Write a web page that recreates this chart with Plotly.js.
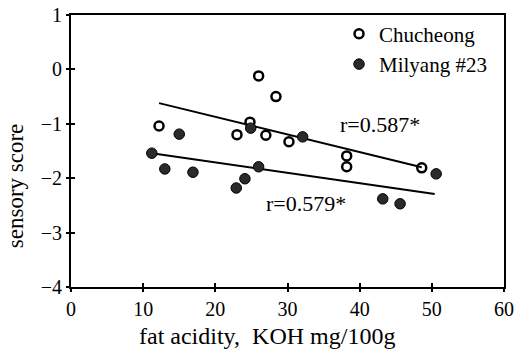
<!DOCTYPE html>
<html>
<head>
<meta charset="utf-8">
<script src="https://cdn.plot.ly/plotly-3.0.1.min.js"></script>
<style>html,body{margin:0;padding:0;background:#fff;}#chart{width:519px;height:353px;}</style>
</head>
<body>
<div id="chart"></div>
<script>
// Chucheong (open circles)
const chuX = [12.2, 23.0, 24.8, 26.0, 27.0, 28.4, 30.2, 38.2, 38.2, 48.6];
const chuY = [-1.04, -1.20, -0.97, -0.12, -1.21, -0.50, -1.33, -1.59, -1.79, -1.81];
// Milyang #23 (filled circles)
const milX = [11.2, 13.0, 15.0, 16.9, 22.9, 24.1, 24.9, 26.0, 32.1, 43.2, 45.6, 50.6];
const milY = [-1.54, -1.83, -1.19, -1.89, -2.18, -2.01, -1.08, -1.79, -1.24, -2.38, -2.47, -1.92];
// regression line endpoints
const chuLineX = [12.2, 48.6];
const chuLineY = [-0.62, -1.80];
const milLineX = [11.2, 50.4];
const milLineY = [-1.54, -2.29];
const seriesNames = ['Chucheong', 'Milyang #23'];
const rLabels = ['r=0.587*', 'r=0.579*'];
const rPosX = [42.8, 32.5];
const rPosY = [-1.02, -2.46];
const xTicks = [0, 10, 20, 30, 40, 50, 60];
const yTicks = [-4, -3, -2, -1, 0, 1];
const xTitle = 'fat acidity,  KOH mg/100g';
const yTitle = 'sensory score';

const serif = 'Liberation Serif';

const traces = [
  {x: chuLineX, y: chuLineY, mode: 'lines', line: {color: '#000', width: 2}, showlegend: false, hoverinfo: 'skip'},
  {x: milLineX, y: milLineY, mode: 'lines', line: {color: '#000', width: 2}, showlegend: false, hoverinfo: 'skip'},
  {x: chuX, y: chuY, mode: 'markers', name: seriesNames[0],
   marker: {symbol: 'circle-open', size: 9, color: '#000', line: {width: 2.5, color: '#000'}}},
  {x: milX, y: milY, mode: 'markers', name: seriesNames[1],
   marker: {symbol: 'circle', size: 10.5, color: '#2a2a2a', line: {width: 1, color: '#000'}}},
  {x: [0], y: [-4], xaxis: 'x2', yaxis: 'y2', mode: 'markers', marker: {opacity: 0}, showlegend: false, hoverinfo: 'skip'}
];

const axisCommon = {
  showgrid: false, zeroline: false, showline: true, linecolor: '#000', linewidth: 2,
  ticks: 'outside', ticklen: 3, tickwidth: 2, tickcolor: '#000',
  tickfont: {family: serif, size: 20, color: '#000'}
};

const layout = {
  width: 519, height: 353,
  font: {family: serif, size: 20, color: '#000'},
  margin: {l: 71, r: 15, t: 15, b: 66},
  paper_bgcolor: '#fff', plot_bgcolor: '#fff',
  showlegend: true,
  legend: {x: 0.619, y: 1.005, xanchor: 'left', yanchor: 'top', bgcolor: 'rgba(0,0,0,0)',
           font: {family: serif, size: 21, color: '#000'}, itemwidth: 30, tracegroupgap: 0},
  xaxis: Object.assign({}, axisCommon, {range: [0, 60], tickvals: xTicks, mirror: true}),
  yaxis: Object.assign({}, axisCommon, {range: [-4, 1], tickvals: yTicks, mirror: true}),
  xaxis2: {overlaying: 'x', matches: 'x', range: [0, 60], tickvals: xTicks, ticks: 'inside', ticklen: 4, tickwidth: 2,
           tickcolor: '#000', showticklabels: false, showgrid: false, zeroline: false, showline: false, anchor: 'y2'},
  yaxis2: {overlaying: 'y', matches: 'y', range: [-4, 1], tickvals: yTicks, ticks: 'inside', ticklen: 4, tickwidth: 2,
           tickcolor: '#000', showticklabels: false, showgrid: false, zeroline: false, showline: false, anchor: 'x2'},
  annotations: rLabels.map((t, i) => ({x: rPosX[i], y: rPosY[i], text: t, showarrow: false,
    font: {family: serif, size: 22, color: '#000'}, xanchor: 'center', yanchor: 'middle'})).concat([
    {xref: 'paper', yref: 'paper', x: 0.452, y: -0.18, text: xTitle, showarrow: false,
     font: {family: serif, size: 24, color: '#000'}, xanchor: 'center', yanchor: 'middle'},
    {xref: 'paper', yref: 'paper', x: -0.129, y: 0.371, text: yTitle, showarrow: false, textangle: -90,
     font: {family: serif, size: 23, color: '#000'}, xanchor: 'center', yanchor: 'middle'}
  ])
};

Plotly.newPlot('chart', traces, layout, {displayModeBar: false, staticPlot: true});
</script>
</body>
</html>
